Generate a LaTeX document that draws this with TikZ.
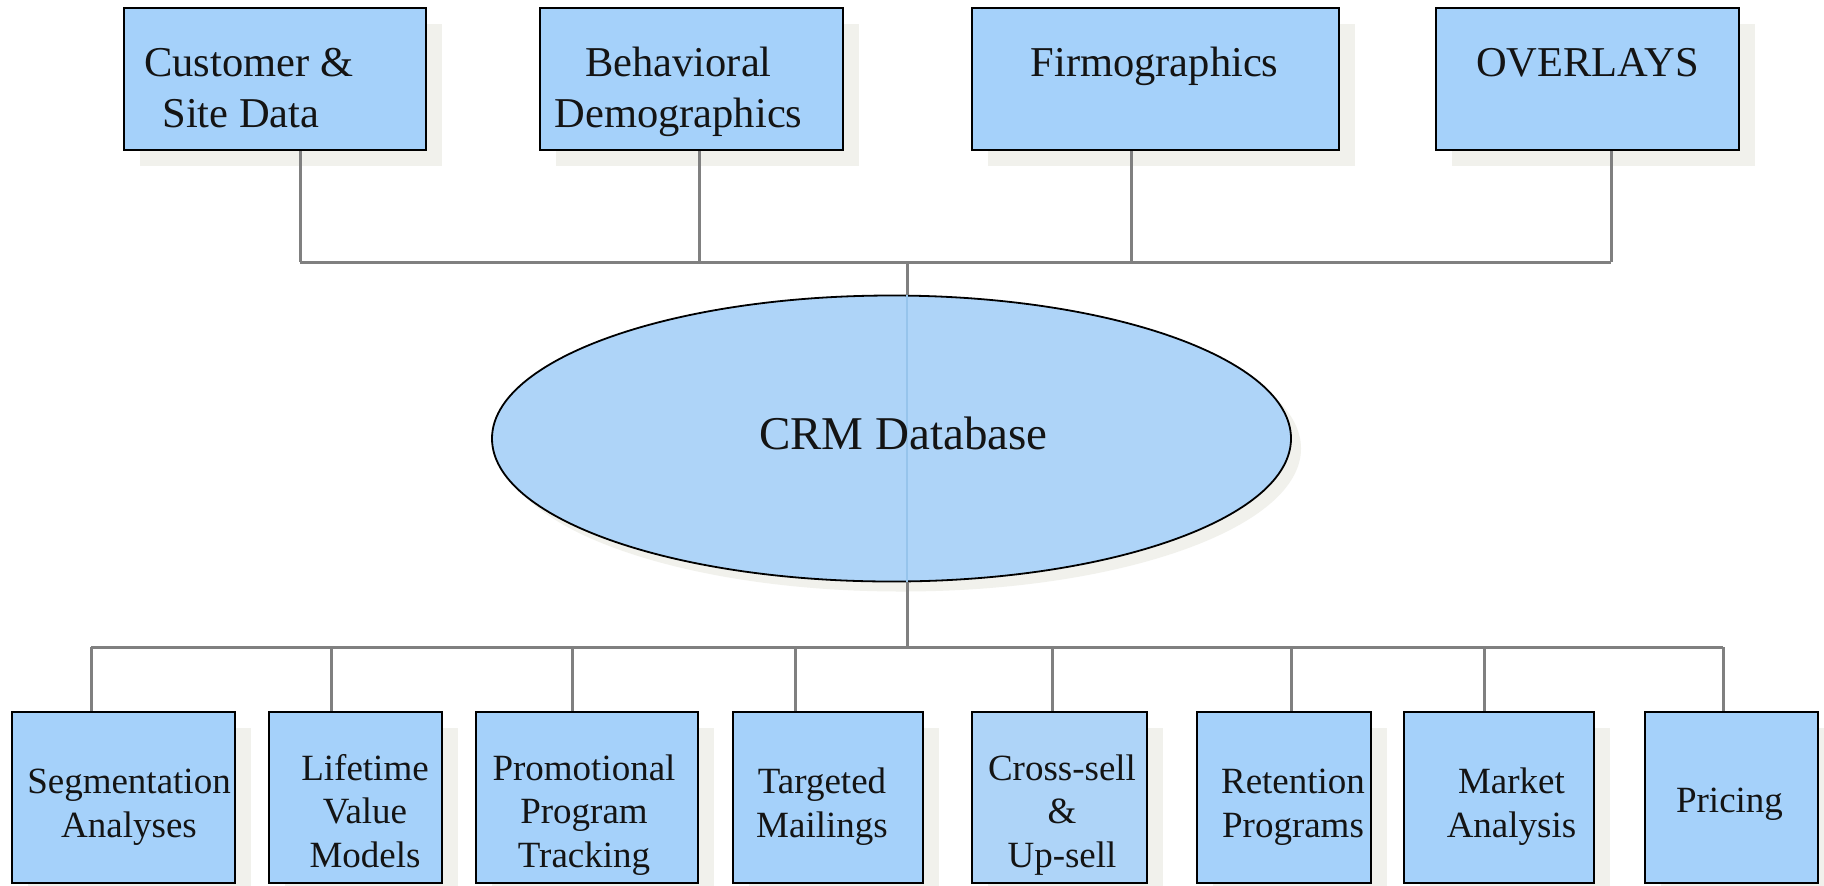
\documentclass[tikz,border=0pt]{standalone}
\usepackage{fontspec}
\setmainfont{Liberation Serif}
\usetikzlibrary{shapes.geometric,shadows}
\definecolor{boxfill}{RGB}{165,209,250}
\definecolor{lightfill}{RGB}{174,212,248}
\definecolor{shadowc}{RGB}{241,241,236}
\definecolor{linec}{RGB}{128,128,128}
\definecolor{txt}{RGB}{20,20,20}
\definecolor{faint}{RGB}{150,196,236}
\begin{document}
\begin{tikzpicture}[x=0.5pt,y=-0.5pt,
  box/.style={draw=black,line width=1.2pt,fill=boxfill,rectangle,inner sep=0pt,
     drop shadow={shadow xshift=8pt,shadow yshift=-8pt,fill=shadowc,opacity=1}},
  topbox/.style={box,minimum height=71pt},
  botbox/.style={box,minimum height=85.5pt},
  conn/.style={draw=linec,line width=1.5pt},
  toptext/.style={font=\fontsize{21.25}{25.5}\selectfont,text=txt,inner sep=0pt,anchor=base,align=center},
  bottext/.style={font=\fontsize{18.5}{21.75}\selectfont,text=txt,inner sep=0pt,anchor=base,align=center},
  crmtext/.style={font=\fontsize{23.5}{28}\selectfont,text=txt,inner sep=0pt,anchor=base}
]
\fill[white] (0,0) rectangle (1824,885);
\useasboundingbox (0,0) rectangle (1824,885);

% top boxes
\node[topbox,minimum width=151pt] (b1) at (275,79) {};
\node[topbox,minimum width=151.5pt] (b2) at (691.5,79) {};
\node[topbox,minimum width=183.5pt] (b3) at (1155.5,79) {};
\node[topbox,minimum width=151.5pt] (b4) at (1587.5,79) {};

% (base anchor = baseline of the last line)
\node[toptext,anchor=base west,align=left] (t1) at (144,127) {Customer \&\\\hspace*{9pt}Site Data};
\node[toptext] (t2) at (678.5,127) {Behavioral\\Demographics};
\node[toptext] (t3) at (1154.5,76) {Firmographics};
\node[toptext] (t4) at (1587.5,76) {OVERLAYS};

% top bus
\coordinate (u1) at (300,262);
\coordinate (u2) at (699,262);
\coordinate (u3) at (1131,262);
\coordinate (u4) at (1611,262);
\coordinate (uc) at (907,262);
\draw[conn] (u1 |- b1.south) -- (u1);
\draw[conn] (u2 |- b2.south) -- (u2);
\draw[conn] (u3 |- b3.south) -- (u3);
\draw[conn] (u4 |- b4.south) -- (u4);
\draw[conn] (u1) -- (u4);

% bottom bus
\coordinate (d1) at (91,647);
\coordinate (d2) at (331,647);
\coordinate (d3) at (572,647);
\coordinate (d4) at (795,647);
\coordinate (d5) at (1052,647);
\coordinate (d6) at (1291,647);
\coordinate (d7) at (1484,647);
\coordinate (d8) at (1723,647);
\coordinate (dc) at (907,647);
\draw[conn] (d1) -- (d8);

% ellipse
\node[ellipse,draw=black,line width=0.9pt,fill=lightfill,inner sep=0pt,
  minimum width=399.5pt,minimum height=143pt,
  drop shadow={shadow xshift=5pt,shadow yshift=-5pt,fill=shadowc,opacity=1}] (crm) at (891.5,438.5) {};
\draw[conn] (uc) -- (uc |- crm.north);
\draw[conn] (dc |- crm.south) -- (dc);
\draw[faint,line width=0.6pt] (uc |- crm.north) -- (dc |- crm.south);
\node[crmtext] (tc) at (903.5,449) {CRM Database};

% bottom boxes
\node[botbox,minimum width=111.5pt] (s1) at (123.5,797.5) {};
\node[botbox,minimum width=86.5pt] (s2) at (355.5,797.5) {};
\node[botbox,minimum width=111pt] (s3) at (587,797.5) {};
\node[botbox,minimum width=95pt] (s4) at (828,797.5) {};
\node[botbox,minimum width=87.5pt,fill=lightfill] (s5) at (1059.5,797.5) {};
\node[botbox,minimum width=87pt] (s6) at (1284,797.5) {};
\node[botbox,minimum width=95pt] (s7) at (1499,797.5) {};
\node[botbox,minimum width=86.5pt] (s8) at (1731.5,797.5) {};

\draw[conn] (d1) -- (d1 |- s1.north);
\draw[conn] (d2) -- (d2 |- s2.north);
\draw[conn] (d3) -- (d3 |- s3.north);
\draw[conn] (d4) -- (d4 |- s4.north);
\draw[conn] (d5) -- (d5 |- s5.north);
\draw[conn] (d6) -- (d6 |- s6.north);
\draw[conn] (d7) -- (d7 |- s7.north);
\draw[conn] (d8) -- (d8 |- s8.north);

\node[bottext] (x1) at (129,837) {Segmentation\\Analyses};
\node[bottext] (x2) at (365,867) {Lifetime\\Value\\Models};
\node[bottext] (x3) at (584,867) {Promotional\\Program\\Tracking};
\node[bottext] (x4) at (822,837) {Targeted\\Mailings};
\node[bottext] (x5) at (1062,867) {Cross-sell\\\&\\Up-sell};
\node[bottext] (x6) at (1293,837) {Retention\\Programs};
\node[bottext] (x7) at (1511.5,837) {Market\\Analysis};
\node[bottext] (x8) at (1729.5,812) {Pricing};
\end{tikzpicture}
\end{document}
